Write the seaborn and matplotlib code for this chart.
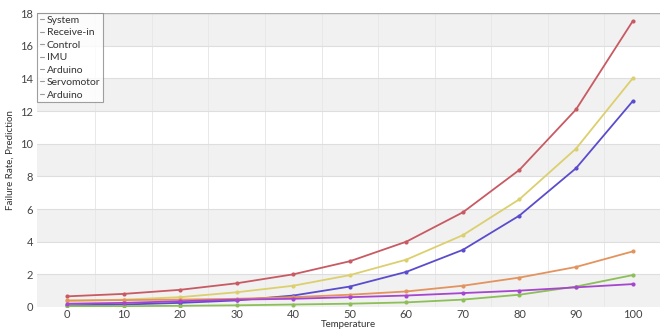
import matplotlib
matplotlib.use("Agg")
import matplotlib.pyplot as plt
from matplotlib.lines import Line2D
import seaborn as sns
import pandas as pd

temperature = [0, 10, 20, 30, 40, 50, 60, 70, 80, 90, 100]
system = [0.65, 0.8, 1.05, 1.45, 2.0, 2.8, 4.0, 5.8, 8.4, 12.1, 17.5]
control = [0.35, 0.45, 0.6, 0.9, 1.3, 1.95, 2.9, 4.4, 6.6, 9.7, 14.0]
imu = [0.1, 0.15, 0.25, 0.4, 0.7, 1.25, 2.15, 3.5, 5.6, 8.5, 12.6]
receive_in = [0.4, 0.42, 0.45, 0.5, 0.6, 0.75, 0.95, 1.3, 1.8, 2.45, 3.4]
servomotor = [0.05, 0.05, 0.07, 0.1, 0.15, 0.2, 0.28, 0.45, 0.75, 1.25, 1.95]
arduino = [0.2, 0.25, 0.35, 0.45, 0.5, 0.6, 0.7, 0.85, 1.0, 1.2, 1.4]

legend_labels = ["System", "Receive-in", "Control", "IMU", "Arduino", "Servomotor", "Arduino"]
y_ticks = [0, 2, 4, 6, 8, 10, 12, 14, 16, 18]
x_ticks = [0, 10, 20, 30, 40, 50, 60, 70, 80, 90, 100]

series = {
    "System": system,
    "Control": control,
    "IMU": imu,
    "Receive-in": receive_in,
    "Servomotor": servomotor,
    "Arduino": arduino,
}
palette = {
    "System": "#c85a63",
    "Control": "#dccf6e",
    "IMU": "#5a4ccc",
    "Receive-in": "#e3935e",
    "Servomotor": "#8cbf58",
    "Arduino": "#a645cf",
}

rows = []
for name, vals in series.items():
    for t, v in zip(temperature, vals):
        rows.append({"Temperature": t, "Value": v, "Series": name})
df = pd.DataFrame(rows)

sns.set_style("white")
plt.rcParams["font.family"] = ["Lato", "DejaVu Sans"]

fig = plt.figure(figsize=(6.66, 3.29), dpi=100)
ax = fig.add_axes([0.0556, 0.067, 0.935, 0.893])

# background bands
for lo in range(0, 18, 4):
    ax.axhspan(lo, lo + 2, color="#f1f1f1", zorder=0, lw=0)
for yv in y_ticks[1:]:
    ax.axhline(yv, color="#dedede", lw=0.8, zorder=0.5)
ax.axhline(18, color="#b0b0b0", lw=1.0, zorder=0.5)
for xv in range(5, 100, 10):
    ax.axvline(xv, color="#e8e8e8", lw=0.7, zorder=0.4)

sns.lineplot(data=df, x="Temperature", y="Value", hue="Series", palette=palette,
             marker="o", markersize=3, markeredgewidth=0, linewidth=1.3,
             ax=ax, legend=False, zorder=3)

ax.set_xlim(-5.3, 104.8)
ax.set_ylim(0, 18)
ax.set_xticks(x_ticks)
ax.set_yticks(y_ticks)
ax.tick_params(axis="y", labelsize=8, colors="#444444", length=0, pad=3)
ax.tick_params(axis="x", labelsize=8, colors="#444444", length=0, pad=1.5)
for s in ax.spines.values():
    s.set_visible(False)

ax.set_xlabel("Temperature", fontsize=7, color="#333333", labelpad=0)
ax.set_ylabel("Failure Rate, Prediction", fontsize=7, color="#333333", labelpad=4)

handles = [Line2D([0], [0], color="#999999", lw=0.8) for _ in legend_labels]
leg = ax.legend(handles, legend_labels, loc="upper left", bbox_to_anchor=(0.0, 1.0),
                fontsize=7.5, frameon=True, fancybox=False, handlelength=0.4,
                handletextpad=0.3, labelspacing=0.3, borderpad=0.25,
                borderaxespad=0.0, edgecolor="#888888")
leg.get_frame().set_linewidth(0.8)
for t in leg.get_texts():
    t.set_color("#333333")

fig.savefig("out.png", dpi=100)
